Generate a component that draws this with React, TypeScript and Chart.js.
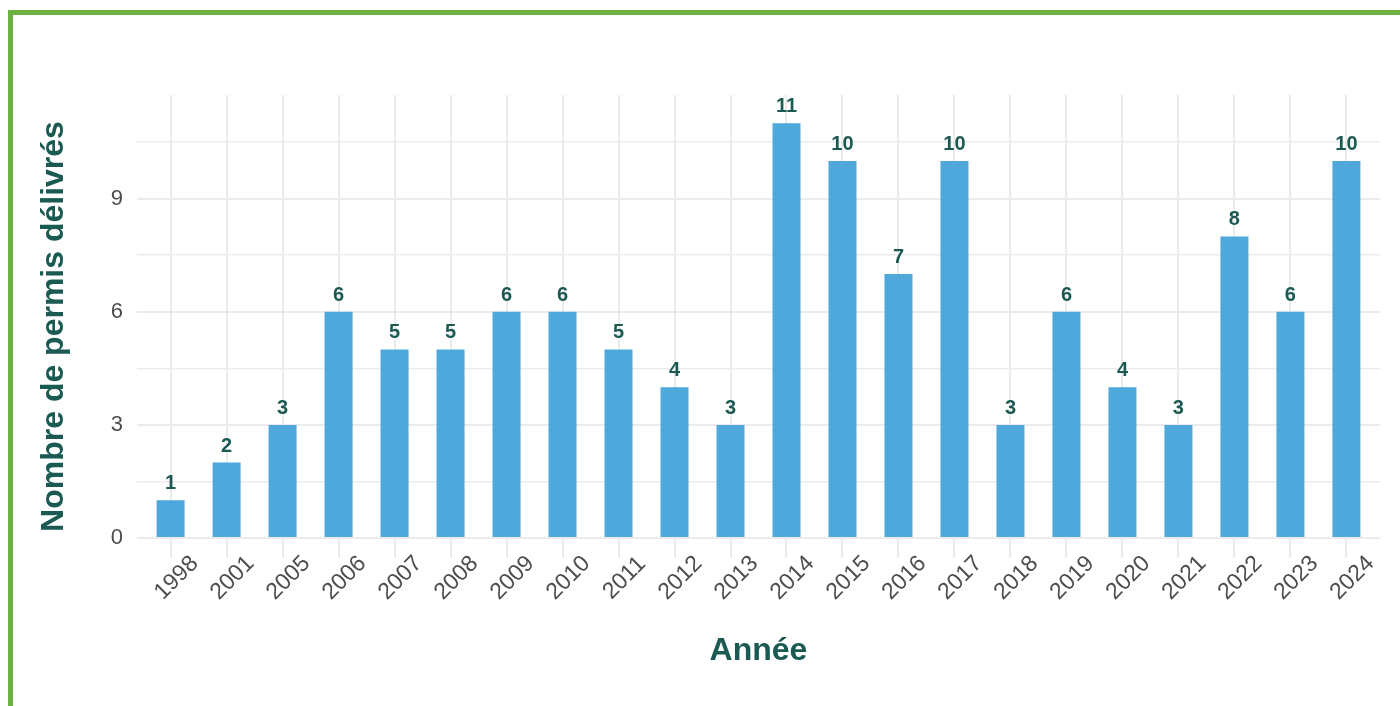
import React, { useEffect, useRef } from "react";
import { Chart, registerables } from "chart.js";

Chart.register(...registerables);

const years: string[] = [
  "1998", "2001", "2005", "2006", "2007", "2008", "2009", "2010", "2011", "2012", "2013",
  "2014", "2015", "2016", "2017", "2018", "2019", "2020", "2021", "2022", "2023", "2024",
];
const permits: number[] = [1, 2, 3, 6, 5, 5, 6, 6, 5, 4, 3, 11, 10, 7, 10, 3, 6, 4, 3, 8, 6, 10];
const yTickValues: number[] = [0, 1.5, 3, 4.5, 6, 7.5, 9, 10.5];
const yTitle = "Nombre de permis délivrés";
const xTitle = "Année";

const TEAL = "#1b5a52";
const BAR = "#4fa8dc";
const GRID = "#ebebeb";
const TICK = "#4d4d4d";
const FONT = "'Liberation Sans', Arial, Helvetica, sans-serif";

const labelsPlugin = {
  id: "customLabels",
  afterDatasetsDraw(chart: any) {
    const ctx = chart.ctx;
    const meta = chart.getDatasetMeta(0);
    ctx.save();
    ctx.fillStyle = TEAL;
    ctx.font = `bold 20px ${FONT}`;
    ctx.textAlign = "center";
    ctx.textBaseline = "alphabetic";
    meta.data.forEach((bar: any, i: number) => {
      ctx.fillText(String(permits[i]), bar.x, bar.y - 11);
    });
    ctx.restore();
  },
  afterDraw(chart: any) {
    const ctx = chart.ctx;
    const xs = chart.scales.x;
    const area = chart.chartArea;
    ctx.save();
    ctx.fillStyle = TICK;
    ctx.font = `23px ${FONT}`;
    ctx.textAlign = "center";
    ctx.textBaseline = "middle";
    years.forEach((y, i) => {
      const px = xs.getPixelForValue(i) + 6;
      const py = area.bottom + 20;
      ctx.save();
      ctx.translate(px, py);
      ctx.rotate(-Math.PI / 4);
      ctx.fillText(y, 0, 0);
      ctx.restore();
    });
    // axis titles
    ctx.fillStyle = TEAL;
    ctx.font = `bold 32px ${FONT}`;
    ctx.textAlign = "center";
    ctx.textBaseline = "alphabetic";
    ctx.fillText(xTitle, (area.left + area.right) / 2, 660);
    ctx.save();
    ctx.translate(63, (area.top + area.bottom) / 2);
    ctx.rotate(-Math.PI / 2);
    ctx.fillText(yTitle, 0, 0);
    ctx.restore();
    ctx.restore();
  },
};

export default function App() {
  const ref = useRef<HTMLCanvasElement | null>(null);
  useEffect(() => {
    document.body.style.overflow = "hidden";
    if (!ref.current) return;
    const chart = new Chart(ref.current, {
      type: "bar",
      data: {
        datasets: [
          {
            data: permits.map((v, i) => ({ x: i, y: v })),
            backgroundColor: BAR,
            borderWidth: 0,
            barPercentage: 0.5,
            categoryPercentage: 1,
          },
        ],
      },
      options: {
        animation: false,
        responsive: false,
        maintainAspectRatio: false,
        layout: { padding: { top: 95, right: 20, left: 0, bottom: 0 } },
        plugins: { legend: { display: false }, tooltip: { enabled: false }, title: { display: false } },
        scales: {
          x: {
            type: "linear",
            offset: false,
            min: -0.6,
            max: years.length - 1 + 0.6,
            afterBuildTicks: (scale: any) => {
              scale.ticks = years.map((_, i) => ({ value: i }));
            },
            afterFit: (scale: any) => {
              scale.height = 148;
            },
            ticks: { display: false },
            grid: { color: GRID, lineWidth: 2, drawTicks: false, offset: false },
            border: { display: false },
          },
          y: {
            type: "linear",
            min: -0.53,
            max: 11.75,
            afterBuildTicks: (scale: any) => {
              scale.ticks = yTickValues.map((v) => ({ value: v }));
            },
            afterFit: (scale: any) => {
              scale.width = 137;
            },
            ticks: {
              padding: 14,
              color: TICK,
              font: { family: FONT, size: 22 },
              callback: (v: any) => (Number(v) % 3 === 0 ? String(v) : ""),
            },
            grid: {
              color: GRID,
              lineWidth: (c: any) => (c.tick && c.tick.value % 3 === 0 ? 2 : 1.5),
              drawTicks: false,
            },
            border: { display: false },
          },
        },
      },
      plugins: [labelsPlugin],
    });
    return () => chart.destroy();
  }, []);

  return (
    <div style={{ position: "fixed", left: 0, top: 0, width: 1400, height: 706, overflow: "hidden", background: "#fff" }}>
      <div
        style={{
          position: "absolute",
          left: 8,
          top: 10,
          width: 1500,
          height: 800,
          border: "5px solid #6db140",
          boxSizing: "border-box",
        }}
      />
      <canvas ref={ref} width={1400} height={706} style={{ position: "absolute", left: 0, top: 0, width: 1400, height: 706 }} />
    </div>
  );
}
